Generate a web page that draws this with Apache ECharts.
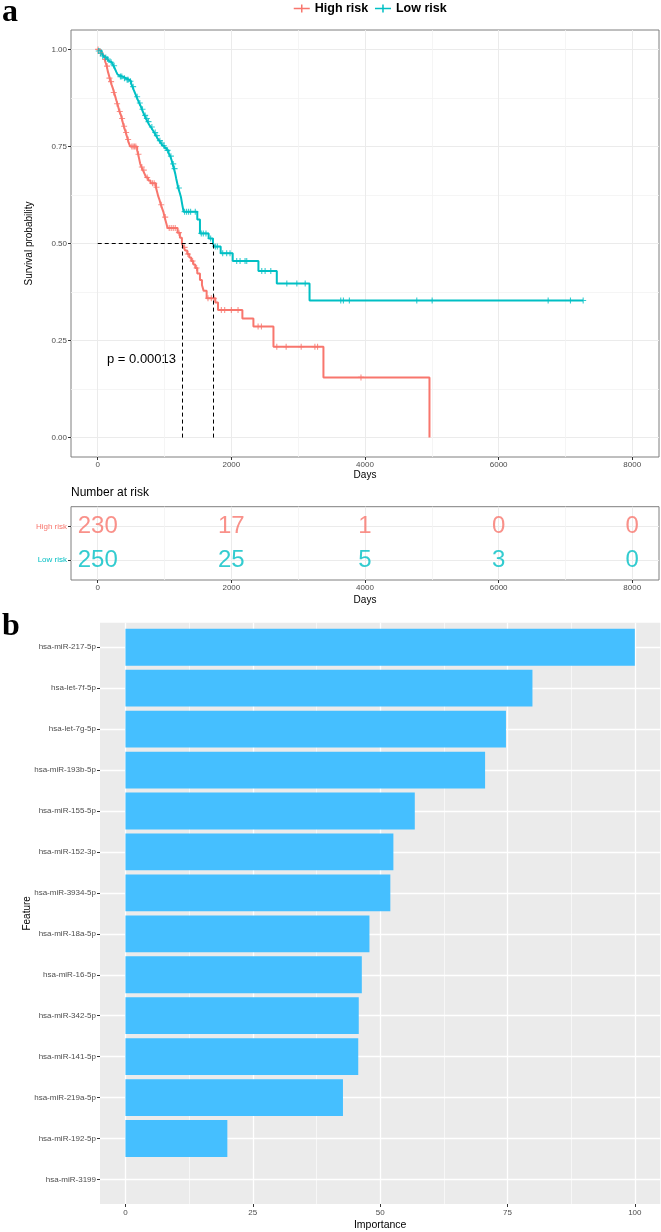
<!DOCTYPE html>
<html><head><meta charset="utf-8">
<script src="https://cdn.jsdelivr.net/npm/echarts@6/dist/echarts.min.js"></script>
<style>html,body{margin:0;padding:0;background:#fff}#c{width:661px;height:1232px}</style>
</head><body><div id="c"></div>
<script>
// ---------- DATA ----------
const groups = ['High risk', 'Low risk'];
const kmXTicks = [0, 2000, 4000, 6000, 8000];
const kmXMinor = [1000, 3000, 5000, 7000];
const kmYTicks = [0, 0.25, 0.5, 0.75, 1];
const kmYMinor = [0.125, 0.375, 0.625, 0.875];

// Kaplan-Meier steps [day, survival]
const highSteps = [[0,1],[25,0.996],[50,0.991],[70,0.987],[90,0.983],[105,0.974],[120,0.965],[135,0.957],[150,0.944],[165,0.935],[180,0.926],[195,0.917],[210,0.908],[228,0.899],[245,0.889],[262,0.879],[278,0.869],[295,0.860],[310,0.850],[325,0.840],[345,0.832],[360,0.822],[375,0.812],[390,0.802],[405,0.794],[420,0.786],[435,0.777],[450,0.768],[465,0.759],[485,0.750],[590,0.740],[605,0.730],[620,0.718],[635,0.706],[655,0.697],[675,0.689],[700,0.680],[725,0.670],[755,0.662],[790,0.655],[870,0.645],[890,0.632],[905,0.622],[925,0.612],[945,0.600],[965,0.590],[985,0.580],[1000,0.568],[1020,0.556],[1045,0.540],[1195,0.528],[1230,0.515],[1260,0.500],[1285,0.490],[1310,0.482],[1340,0.473],[1370,0.464],[1400,0.455],[1430,0.446],[1460,0.437],[1490,0.423],[1530,0.406],[1560,0.393],[1585,0.378],[1630,0.359],[1760,0.348],[1800,0.329],[2165,0.307],[2330,0.286],[2630,0.234],[3378,0.155],[4965,0]];
const lowSteps = [[0,1],[30,0.996],[60,0.990],[85,0.983],[110,0.979],[135,0.975],[160,0.971],[185,0.967],[210,0.962],[235,0.958],[258,0.950],[278,0.942],[298,0.935],[325,0.930],[380,0.926],[420,0.922],[470,0.918],[500,0.912],[520,0.904],[540,0.895],[560,0.887],[580,0.878],[600,0.870],[620,0.862],[640,0.855],[660,0.846],[680,0.838],[700,0.830],[720,0.822],[745,0.814],[770,0.806],[795,0.800],[820,0.793],[845,0.786],[870,0.778],[895,0.771],[920,0.765],[945,0.759],[970,0.752],[1000,0.746],[1030,0.740],[1060,0.733],[1085,0.725],[1105,0.715],[1120,0.705],[1140,0.693],[1160,0.680],[1175,0.667],[1190,0.655],[1205,0.643],[1225,0.632],[1245,0.620],[1265,0.600],[1285,0.582],[1490,0.562],[1530,0.526],[1660,0.513],[1725,0.500],[1745,0.492],[1840,0.475],[2020,0.455],[2405,0.429],[2680,0.397],[3170,0.353],[7265,0.353]];
// censored observations [day, survival]
const highCensor = [[5,1],[40,0.991],[110,0.974],[140,0.957],[175,0.926],[200,0.917],[240,0.889],[290,0.860],[330,0.840],[365,0.822],[395,0.802],[425,0.786],[455,0.768],[510,0.750],[530,0.750],[550,0.750],[570,0.750],[610,0.730],[660,0.697],[690,0.689],[740,0.670],[820,0.655],[845,0.655],[880,0.645],[950,0.600],[1010,0.568],[1070,0.540],[1100,0.540],[1130,0.540],[1160,0.540],[1215,0.528],[1300,0.490],[1350,0.473],[1420,0.455],[1480,0.437],[1650,0.359],[1700,0.359],[1740,0.359],[1850,0.329],[1900,0.329],[2000,0.329],[2100,0.329],[2400,0.286],[2450,0.286],[2680,0.234],[2820,0.234],[3045,0.234],[3250,0.234],[3290,0.234],[3940,0.155]];
const lowCensor = [[15,0.996],[45,0.990],[75,0.983],[120,0.979],[150,0.975],[200,0.967],[245,0.958],[340,0.930],[360,0.930],[400,0.926],[440,0.922],[455,0.922],[490,0.918],[530,0.904],[590,0.878],[630,0.862],[670,0.846],[710,0.830],[735,0.822],[760,0.814],[810,0.800],[860,0.786],[885,0.778],[930,0.765],[960,0.759],[990,0.752],[1045,0.740],[1095,0.725],[1130,0.705],[1150,0.693],[1215,0.643],[1300,0.582],[1330,0.582],[1360,0.582],[1390,0.582],[1460,0.582],[1550,0.526],[1580,0.526],[1620,0.526],[1690,0.513],[1760,0.492],[1790,0.492],[1870,0.475],[1930,0.475],[1980,0.475],[2080,0.455],[2130,0.455],[2205,0.455],[2230,0.455],[2455,0.429],[2505,0.429],[2590,0.429],[2830,0.397],[2980,0.397],[3105,0.397],[3637,0.353],[3677,0.353],[3766,0.353],[4775,0.353],[5005,0.353],[6741,0.353],[7075,0.353],[7265,0.353]];
const medianDays = [1272, 1726];
const medianSurv = 0.5;
const pValueText = 'p = 0.00013';

// Number at risk
const riskTimes = [0, 2000, 4000, 6000, 8000];
const riskHigh = [230, 17, 1, 0, 0];
const riskLow = [250, 25, 5, 3, 0];

// Feature importance
const features = ['hsa-miR-217-5p','hsa-let-7f-5p','hsa-let-7g-5p','hsa-miR-193b-5p','hsa-miR-155-5p','hsa-miR-152-3p','hsa-miR-3934-5p','hsa-miR-18a-5p','hsa-miR-16-5p','hsa-miR-342-5p','hsa-miR-141-5p','hsa-miR-219a-5p','hsa-miR-192-5p','hsa-miR-3199'];
const importance = [100, 79.9, 74.7, 70.6, 56.8, 52.6, 52.0, 47.9, 46.4, 45.8, 45.7, 42.7, 20.0, 0];
const impTicks = [0, 25, 50, 75, 100];
const impMinor = [12.5, 37.5, 62.5, 87.5];

// ---------- CHART ----------
const F = 'Liberation Sans';
const RED = '#F8766D', TEAL = '#00BFC4', BAR = '#45BFFF';
const PLUS = 'path://M0,5L10,5M5,0L5,10';
const PLUSLINE = 'path://M0,5L16,5M8,1L8,9';
const tickStyle = {color: '#333333', width: 1};
const labStyle = {fontSize: 8, color: '#4D4D4D', fontFamily: F};
const nameStyle = {fontSize: 10, color: '#000', fontFamily: F};
const featureIdx = features.map((f, i) => i);
const noLine = {show: false, onZero: false};
const plain = v => String(Number(v));

function minorAxis(grid, min, max, vals, color, width) {
  return {
    gridIndex: grid, type: 'value', min: min, max: max,
    axisLine: noLine, axisLabel: {show: false},
    axisTick: {show: false, customValues: vals},
    splitLine: {show: true, lineStyle: {color: color, width: width}}
  };
}

const chart = echarts.init(document.getElementById('c'));
const option = {
  animation: false,
  backgroundColor: '#fff',
  grid: [
    {left: 71, top: 30, width: 588, height: 427, show: true, borderColor: '#7F7F7F', borderWidth: 1, backgroundColor: '#fff'},
    {left: 71, top: 506.7, width: 588, height: 73.3, show: true, borderColor: '#7F7F7F', borderWidth: 1, backgroundColor: '#fff'},
    {left: 100, top: 622.7, width: 560.3, height: 585, show: true, borderWidth: 0, backgroundColor: '#EBEBEB'}
  ],
  legend: {
    top: 2, left: 293, padding: 0, itemWidth: 16, itemHeight: 10, itemGap: 6,
    textStyle: {fontSize: 12.5, fontWeight: 'bold', color: '#000', fontFamily: F},
    data: [
      {name: groups[0], icon: PLUSLINE, itemStyle: {color: 'rgba(0,0,0,0)', borderColor: RED, borderWidth: 1.5}},
      {name: groups[1], icon: PLUSLINE, itemStyle: {color: 'rgba(0,0,0,0)', borderColor: TEAL, borderWidth: 1.5}}
    ]
  },
  graphic: [
    {type: 'text', left: 2, top: -3, style: {text: 'a', font: 'bold 32px "Liberation Serif"', fill: '#000'}},
    {type: 'text', left: 2, top: 611, style: {text: 'b', font: 'bold 32px "Liberation Serif"', fill: '#000'}},
    {type: 'text', left: 107, top: 353, style: {text: pValueText, font: '13px "Liberation Sans"', fill: '#000'}},
    {type: 'text', left: 71, top: 487, style: {text: 'Number at risk', font: '12px "Liberation Sans"', fill: '#000'}}
  ],
  xAxis: [
    {gridIndex: 0, type: 'value', min: -400, max: 8400,
     axisLine: noLine,
     axisTick: {show: true, length: 3, customValues: kmXTicks, lineStyle: tickStyle},
     axisLabel: Object.assign({customValues: kmXTicks, margin: 4, formatter: plain}, labStyle),
     splitLine: {show: true, lineStyle: {color: '#EBEBEB', width: 1}},
     name: 'Days', nameLocation: 'middle', nameGap: 13, nameTextStyle: nameStyle},
    minorAxis(0, -400, 8400, kmXMinor, '#F2F2F2', 0.8),
    {gridIndex: 1, type: 'value', min: -400, max: 8400,
     axisLine: noLine,
     axisTick: {show: true, length: 3, customValues: riskTimes, lineStyle: tickStyle},
     axisLabel: Object.assign({customValues: riskTimes, margin: 4, formatter: plain}, labStyle),
     splitLine: {show: true, lineStyle: {color: '#EBEBEB', width: 1}},
     name: 'Days', nameLocation: 'middle', nameGap: 15, nameTextStyle: nameStyle},
    minorAxis(1, -400, 8400, kmXMinor, '#F2F2F2', 0.8),
    {gridIndex: 2, type: 'value', min: -5, max: 105,
     axisLine: noLine,
     axisTick: {show: true, length: 3, customValues: impTicks, lineStyle: tickStyle},
     axisLabel: Object.assign({customValues: impTicks, margin: 5, formatter: plain}, labStyle),
     splitLine: {show: true, lineStyle: {color: '#FFFFFF', width: 1.3}},
     name: 'Importance', nameLocation: 'middle', nameGap: 16, nameTextStyle: {fontSize: 10.5, color: '#000', fontFamily: F}},
    minorAxis(2, -5, 105, impMinor, '#FFFFFF', 0.6)
  ],
  yAxis: [
    {gridIndex: 0, type: 'value', min: -0.05, max: 1.05,
     axisLine: noLine,
     axisTick: {show: true, length: 3, customValues: kmYTicks, lineStyle: tickStyle},
     axisLabel: Object.assign({customValues: kmYTicks, margin: 4, formatter: v => Number(v).toFixed(2)}, labStyle),
     splitLine: {show: true, lineStyle: {color: '#EBEBEB', width: 1}},
     name: 'Survival probability', nameLocation: 'middle', nameGap: 37, nameTextStyle: nameStyle},
    minorAxis(0, -0.05, 1.05, kmYMinor, '#F2F2F2', 0.8),
    {gridIndex: 1, type: 'value', min: 0.4, max: 2.6, inverse: true,
     axisLine: noLine,
     axisTick: {show: true, length: 3, customValues: [1, 2], lineStyle: tickStyle},
     axisLabel: {customValues: [1, 2], margin: 4, fontSize: 8, fontFamily: F,
       formatter: v => groups[Number(v) - 1],
       color: v => (Number(v) === 1 ? RED : TEAL)},
     splitLine: {show: true, lineStyle: {color: '#EBEBEB', width: 1}}},
    {gridIndex: 2, type: 'value', min: -0.6, max: 13.6, inverse: true,
     axisLine: noLine,
     axisTick: {show: true, length: 3, customValues: featureIdx, lineStyle: tickStyle},
     axisLabel: Object.assign({customValues: featureIdx, margin: 4, formatter: v => features[Number(v)]}, labStyle),
     splitLine: {show: true, lineStyle: {color: '#FFFFFF', width: 1.3}},
     name: 'Feature', nameLocation: 'middle', nameGap: 68, nameMoveOverlap: false, nameTextStyle: nameStyle}
  ],
  series: [
    {name: groups[0], type: 'line', xAxisIndex: 0, yAxisIndex: 0, step: 'end', data: highSteps,
     showSymbol: false, symbol: 'none', lineStyle: {color: RED, width: 2}, itemStyle: {color: RED}, z: 3,
     markLine: {silent: true, symbol: 'none', label: {show: false},
       lineStyle: {color: '#000', width: 1, type: [4, 3]},
       data: [
         [{coord: [0, medianSurv]}, {coord: [medianDays[1], medianSurv]}],
         [{coord: [medianDays[0], 0]}, {coord: [medianDays[0], medianSurv]}],
         [{coord: [medianDays[1], 0]}, {coord: [medianDays[1], medianSurv]}]
       ]}},
    {name: groups[1], type: 'line', xAxisIndex: 0, yAxisIndex: 0, step: 'end', data: lowSteps,
     showSymbol: false, symbol: 'none', lineStyle: {color: TEAL, width: 2}, itemStyle: {color: TEAL}, z: 3},
    {name: 'highCensor', type: 'scatter', xAxisIndex: 0, yAxisIndex: 0, data: highCensor,
     symbol: PLUS, symbolSize: 6, itemStyle: {color: 'rgba(0,0,0,0)', borderColor: RED, borderWidth: 1.1}, z: 4},
    {name: 'lowCensor', type: 'scatter', xAxisIndex: 0, yAxisIndex: 0, data: lowCensor,
     symbol: PLUS, symbolSize: 6, itemStyle: {color: 'rgba(0,0,0,0)', borderColor: TEAL, borderWidth: 1.1}, z: 4},
    {name: 'riskHigh', type: 'scatter', xAxisIndex: 2, yAxisIndex: 2,
     data: riskTimes.map((t, i) => [t, 1, riskHigh[i]]), symbolSize: 0,
     label: {show: true, position: 'inside', formatter: p => String(p.value[2]), color: RED, fontSize: 24, fontFamily: F}},
    {name: 'riskLow', type: 'scatter', xAxisIndex: 2, yAxisIndex: 2,
     data: riskTimes.map((t, i) => [t, 2, riskLow[i]]), symbolSize: 0,
     label: {show: true, position: 'inside', formatter: p => String(p.value[2]), color: TEAL, fontSize: 24, fontFamily: F}},
    {name: 'importance', type: 'custom', xAxisIndex: 4, yAxisIndex: 3,
     data: importance.map((v, i) => [v, i]), encode: {x: 0, y: 1},
     renderItem: (params, api) => {
       const v = api.value(0), i = api.value(1);
       const p0 = api.coord([0, i]);
       const p1 = api.coord([v, i]);
       const h = Math.abs(api.size([0, 0.9])[1]);
       return {type: 'rect', shape: {x: p0[0], y: p0[1] - h / 2, width: p1[0] - p0[0], height: h},
               style: {fill: BAR}};
     }}
  ]
};
chart.setOption(option);
</script>
</body></html>
